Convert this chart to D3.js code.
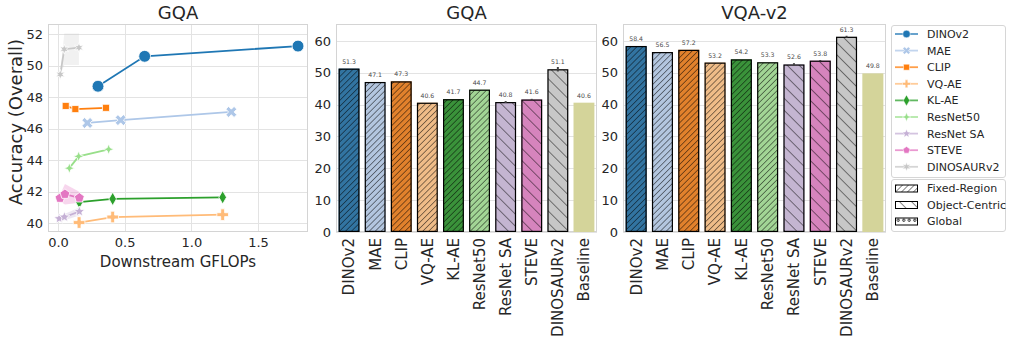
<!doctype html>
<html>
<head>
<meta charset="utf-8">
<title>GQA / VQA-v2</title>
<script src="https://cdn.jsdelivr.net/npm/d3@7"></script>
<style>
    body { margin: 0; background: #fff; }
    text { font-family: "DejaVu Sans", sans-serif; fill: #262626; }
    text.val { fill: #4a4a4a; }
    .grid line { stroke: #e3e3e3; stroke-width: 1; shape-rendering: crispEdges; }
    .grid path { display: none; }
    .axis path { display: none; }
    .frame { fill: none; stroke: #d4d4d4; stroke-width: 1; shape-rendering: crispEdges; }
</style>
</head>
<body>
<script>
"use strict";

// bar charts
const categories = ["DINOv2", "MAE", "CLIP", "VQ-AE", "KL-AE", "ResNet50", "ResNet SA", "STEVE", "DINOSAURv2", "Baseline"];
const gqaScores = [51.3, 47.1, 47.3, 40.6, 41.7, 44.7, 40.8, 41.6, 51.1, 40.6];
const gqaErr = [0, 0, 0, 0, 0, 0, 0.3, 0.2, 0.7, 0];
const vqaScores = [58.4, 56.5, 57.2, 53.2, 54.2, 53.3, 52.6, 53.8, 61.3, 49.8];
const vqaErr = [0, 0, 0, 0, 0, 0, 0.4, 0.2, 0.3, 0];
const hatchKind = ["fixed", "fixed", "fixed", "fixed", "fixed", "fixed", "object", "object", "object", "none"];
const barColors = ["#3274a1", "#b3c6df", "#e1812c", "#efbc88", "#3a923a", "#a2d595", "#c4b5d1", "#d684bd", "#c7c7c7", "#d4d49a"];

// scatter (GFLOPs vs accuracy)
const seriesNames = ["DINOv2", "MAE", "CLIP", "VQ-AE", "KL-AE", "ResNet50", "ResNet SA", "STEVE", "DINOSAURv2"];
const seriesColors = ["#1f77b4", "#aec7e8", "#ff7f0e", "#ffbb78", "#2ca02c", "#98df8a", "#c5b0d5", "#e377c2", "#c7c7c7"];
const seriesGflops = [
    [0.30, 0.65, 1.80],
    [0.22, 0.47, 1.30],
    [0.058, 0.13, 0.36],
    [0.158, 0.41, 1.235],
    [0.16, 0.41, 1.235],
    [0.085, 0.155, 0.38],
    [0.01, 0.048, 0.16],
    [0.015, 0.052, 0.16],
    [0.017, 0.047, 0.157]
];
const seriesAcc = [
    [48.7, 50.6, 51.25],
    [46.37, 46.55, 47.07],
    [47.45, 47.25, 47.33],
    [40.05, 40.4, 40.55],
    [41.35, 41.55, 41.65],
    [43.5, 44.25, 44.7],
    [40.3, 40.4, 40.75],
    [41.6, 41.85, 41.62],
    [49.45, 51.05, 51.15]
];
const bandLow = [null, null, null, null, null, null, [40.2, 40.2, 40.5], [41.4, 41.2, 41.3], [49.45, 50.05, 50.05]];
const bandHigh = [null, null, null, null, null, null, [40.4, 40.6, 41.0], [41.8, 42.5, 42.0], [49.45, 52.05, 52.05]];
const hatchNames = ["Fixed-Region", "Object-Centric", "Global"];

// custom marker shapes
function starSymbol(points, inner) {
    return {
        draw(ctx, size) {
            const r = Math.sqrt(size) * 0.75;
            for (let i = 0; i < points * 2; i++) {
                const rr = i % 2 === 0 ? r : r * inner;
                const a = Math.PI * i / points - Math.PI / 2;
                if (i === 0) ctx.moveTo(rr * Math.cos(a), rr * Math.sin(a));
                else ctx.lineTo(rr * Math.cos(a), rr * Math.sin(a));
            }
            ctx.closePath();
        }
    };
}
function polygonSymbol(n) {
    return {
        draw(ctx, size) {
            const r = Math.sqrt(size) * 0.62;
            for (let i = 0; i < n; i++) {
                const a = 2 * Math.PI * i / n - Math.PI / 2;
                if (i === 0) ctx.moveTo(r * Math.cos(a), r * Math.sin(a));
                else ctx.lineTo(r * Math.cos(a), r * Math.sin(a));
            }
            ctx.closePath();
        }
    };
}
const markerTypes = [d3.symbolCircle, d3.symbolCross, d3.symbolSquare, d3.symbolCross, d3.symbolDiamond,
    starSymbol(4, 0.4), starSymbol(5, 0.45), polygonSymbol(5), starSymbol(6, 0.45)];
const markerRotate = [0, 45, 0, 0, 0, 0, 0, 0, 0];
const markerSize = [110, 75, 50, 75, 50, 50, 55, 70, 45];

const W = 1009, H = 341;
const svg = d3.select("body").append("svg")
    .attr("width", W).attr("height", H)
    .attr("viewBox", [0, 0, W, H]);

// hatch patterns
const defs = svg.append("defs");
defs.append("pattern").attr("id", "fixed")
    .attr("patternUnits", "userSpaceOnUse").attr("width", 4.2).attr("height", 4.2)
    .attr("patternTransform", "rotate(45)")
    .append("line").attr("x1", 0).attr("y1", 0).attr("x2", 0).attr("y2", 4.2)
    .attr("stroke", "#000").attr("stroke-width", 0.9);
defs.append("pattern").attr("id", "object")
    .attr("patternUnits", "userSpaceOnUse").attr("width", 8.5).attr("height", 8.5)
    .attr("patternTransform", "rotate(-45)")
    .append("line").attr("x1", 0).attr("y1", 0).attr("x2", 0).attr("y2", 8.5)
    .attr("stroke", "#000").attr("stroke-width", 0.9);
defs.append("pattern").attr("id", "global")
    .attr("patternUnits", "objectBoundingBox").attr("width", 0.25).attr("height", 1)
    .attr("patternContentUnits", "userSpaceOnUse")
    .append("circle").attr("cx", 2.75).attr("cy", 2.2).attr("r", 1.2)
    .attr("fill", "#fff").attr("stroke", "#000").attr("stroke-width", 0.8);

const plotTop = 24, plotBottom = 232;

// ---------- panel 1: scatter ----------
(function () {
    const left = 48, right = 308;
    const x = d3.scaleLinear().domain([-0.075, 1.875]).range([left, right]);
    const y = d3.scaleLinear().domain([39.45, 52.65]).range([plotBottom, plotTop]);
    const g = svg.append("g");

    g.append("g").attr("class", "grid")
        .attr("transform", `translate(0,${plotBottom})`)
        .call(d3.axisBottom(x).tickValues([0, 0.5, 1, 1.5]).tickSize(-(plotBottom - plotTop)).tickFormat(""));
    g.append("g").attr("class", "grid")
        .attr("transform", `translate(${left},0)`)
        .call(d3.axisLeft(y).tickValues(d3.range(40, 53, 2)).tickSize(-(right - left)).tickFormat(""));
    g.append("rect").attr("class", "frame")
        .attr("x", left + 0.5).attr("y", plotTop + 0.5)
        .attr("width", right - left - 1).attr("height", plotBottom - plotTop - 1);

    g.append("g").attr("class", "axis")
        .attr("transform", `translate(0,${plotBottom})`)
        .call(d3.axisBottom(x).tickValues([0, 0.5, 1, 1.5]).tickFormat(d3.format(".1f")).tickSize(0).tickPadding(6))
        .call(a => a.selectAll("text").attr("font-size", 13));
    g.append("g").attr("class", "axis")
        .attr("transform", `translate(${left},0)`)
        .call(d3.axisLeft(y).tickValues(d3.range(40, 53, 2)).tickSize(0).tickPadding(5))
        .call(a => a.selectAll("text").attr("font-size", 13));

    g.append("text").attr("x", (left + right) / 2).attr("y", 19)
        .attr("text-anchor", "middle").attr("font-size", 18).text("GQA");
    g.append("text").attr("x", (left + right) / 2).attr("y", 267)
        .attr("text-anchor", "middle").attr("font-size", 15).text("Downstream GFLOPs");
    g.append("text").attr("transform", `translate(22,${(plotTop + plotBottom) / 2 - 6}) rotate(-90)`)
        .attr("text-anchor", "middle").attr("font-size", 18).text("Accuracy (Overall)");

    const plot = g.append("g");
    seriesNames.forEach((name, i) => {
        const pts = seriesGflops[i].map((v, j) => ({x: v, y: seriesAcc[i][j], lo: bandLow[i] ? bandLow[i][j] : null, hi: bandHigh[i] ? bandHigh[i][j] : null}));
        if (bandLow[i]) {
            plot.append("path").datum(pts)
                .attr("fill", seriesColors[i]).attr("fill-opacity", i === 8 ? 0.25 : 0.3)
                .attr("d", d3.area().x(d => x(d.x)).y0(d => y(d.lo)).y1(d => y(d.hi)));
        }
        plot.append("path").datum(pts)
            .attr("fill", "none").attr("stroke", seriesColors[i]).attr("stroke-width", 1.8)
            .attr("d", d3.line().x(d => x(d.x)).y(d => y(d.y)));
    });
    seriesNames.forEach((name, i) => {
        const pts = seriesGflops[i].map((v, j) => ({x: v, y: seriesAcc[i][j]}));
        plot.selectAll(null).data(pts).join("path")
            .attr("transform", d => `translate(${x(d.x)},${y(d.y)}) rotate(${markerRotate[i]})`)
            .attr("d", d3.symbol().type(markerTypes[i]).size(markerSize[i]))
            .attr("fill", seriesColors[i]).attr("stroke", "#fff").attr("stroke-width", 0.8);
    });
})();

// ---------- bar panels ----------
function barPanel(left, right, title, scores, errs) {
    const x = d3.scaleBand().domain(categories).range([left, right]).paddingInner(0.2).paddingOuter(0.1);
    const y = d3.scaleLinear().domain([0, 65.3]).range([plotBottom, plotTop]);
    const g = svg.append("g");

    g.append("g").attr("class", "grid")
        .attr("transform", `translate(${left},0)`)
        .call(d3.axisLeft(y).tickValues(d3.range(0, 61, 10)).tickSize(-(right - left)).tickFormat(""));
    g.append("rect").attr("class", "frame")
        .attr("x", left + 0.5).attr("y", plotTop + 0.5)
        .attr("width", right - left - 1).attr("height", plotBottom - plotTop - 1);
    g.append("g").attr("class", "axis")
        .attr("transform", `translate(${left},0)`)
        .call(d3.axisLeft(y).tickValues(d3.range(0, 61, 10)).tickSize(0).tickPadding(5))
        .call(a => a.selectAll("text").attr("font-size", 13));
    g.append("g").attr("class", "axis")
        .attr("transform", `translate(0,${plotBottom})`)
        .call(d3.axisBottom(x).tickSize(0).tickPadding(0))
        .call(a => a.selectAll("text")
            .attr("font-size", 15)
            .attr("text-anchor", "end")
            .attr("transform", "rotate(-90)")
            .attr("x", -6).attr("y", 0).attr("dy", "0.36em"));

    g.append("text").attr("x", (left + right) / 2).attr("y", 19)
        .attr("text-anchor", "middle").attr("font-size", 18).text(title);

    const data = categories.map((c, i) => ({c, v: scores[i], e: errs[i], h: hatchKind[i], col: barColors[i]}));
    const bars = g.append("g");
    bars.selectAll("rect.fill").data(data).join("rect")
        .attr("x", d => x(d.c)).attr("width", x.bandwidth())
        .attr("y", d => y(d.v)).attr("height", d => y(0) - y(d.v))
        .attr("fill", d => d.col);
    bars.selectAll("rect.hatch").data(data.filter(d => d.h !== "none")).join("rect")
        .attr("x", d => x(d.c) + 0.6).attr("width", x.bandwidth() - 1.2)
        .attr("y", d => y(d.v) + 0.6).attr("height", d => y(0) - y(d.v) - 1.2)
        .attr("fill", d => `url(#${d.h})`)
        .attr("stroke", "#000").attr("stroke-width", 1.2);
    bars.selectAll("line.err").data(data.filter(d => d.e > 0)).join("line")
        .attr("x1", d => x(d.c) + x.bandwidth() / 2).attr("x2", d => x(d.c) + x.bandwidth() / 2)
        .attr("y1", d => y(d.v - d.e)).attr("y2", d => y(d.v + d.e))
        .attr("stroke", "#424242").attr("stroke-width", 2);
    bars.selectAll("text.val").data(data).join("text")
        .attr("class", "val")
        .attr("x", d => x(d.c) + x.bandwidth() / 2).attr("y", d => y(d.v) - 5)
        .attr("text-anchor", "middle").attr("font-size", 6.2)
        .text(d => d.v.toFixed(1));
}
barPanel(336, 597, "GQA", gqaScores, gqaErr);
barPanel(623, 886, "VQA-v2", vqaScores, vqaErr);

// ---------- legends ----------
(function () {
    const lx = 891, lw = 114;
    const lg = svg.append("g");
    lg.append("rect").attr("x", lx + 0.5).attr("y", 25.5).attr("width", lw).attr("height", 152)
        .attr("rx", 2.5).attr("fill", "#fff").attr("stroke", "#d6d6d6");
    seriesNames.forEach((name, i) => {
        const yy = 34 + i * 16.6;
        lg.append("line").attr("x1", lx + 4).attr("x2", lx + 27).attr("y1", yy).attr("y2", yy)
            .attr("stroke", seriesColors[i]).attr("stroke-width", 1.8).attr("stroke-opacity", 0.75);
        lg.append("path")
            .attr("transform", `translate(${lx + 15.5},${yy}) rotate(${markerRotate[i]})`)
            .attr("d", d3.symbol().type(markerTypes[i]).size(i === 0 ? 45 : 35))
            .attr("fill", seriesColors[i]).attr("stroke", "#fff").attr("stroke-width", 0.5);
        lg.append("text").attr("x", lx + 36).attr("y", yy).attr("dy", "0.36em")
            .attr("font-size", 11).text(name);
    });

    lg.append("rect").attr("x", lx + 0.5).attr("y", 179.5).attr("width", lw).attr("height", 52)
        .attr("rx", 2.5).attr("fill", "#fff").attr("stroke", "#d6d6d6");
    const pats = ["fixed", "object", "global"];
    hatchNames.forEach((name, i) => {
        const yy = 188.5 + i * 16.5;
        lg.append("rect").attr("x", lx + 4.5).attr("y", yy - 3.5).attr("width", 22).attr("height", 7)
            .attr("fill", `url(#${pats[i]})`).attr("stroke", "#000").attr("stroke-width", 1);
        lg.append("text").attr("x", lx + 36).attr("y", yy).attr("dy", "0.36em")
            .attr("font-size", 11).text(name);
    });
})();
</script>
</body>
</html>
